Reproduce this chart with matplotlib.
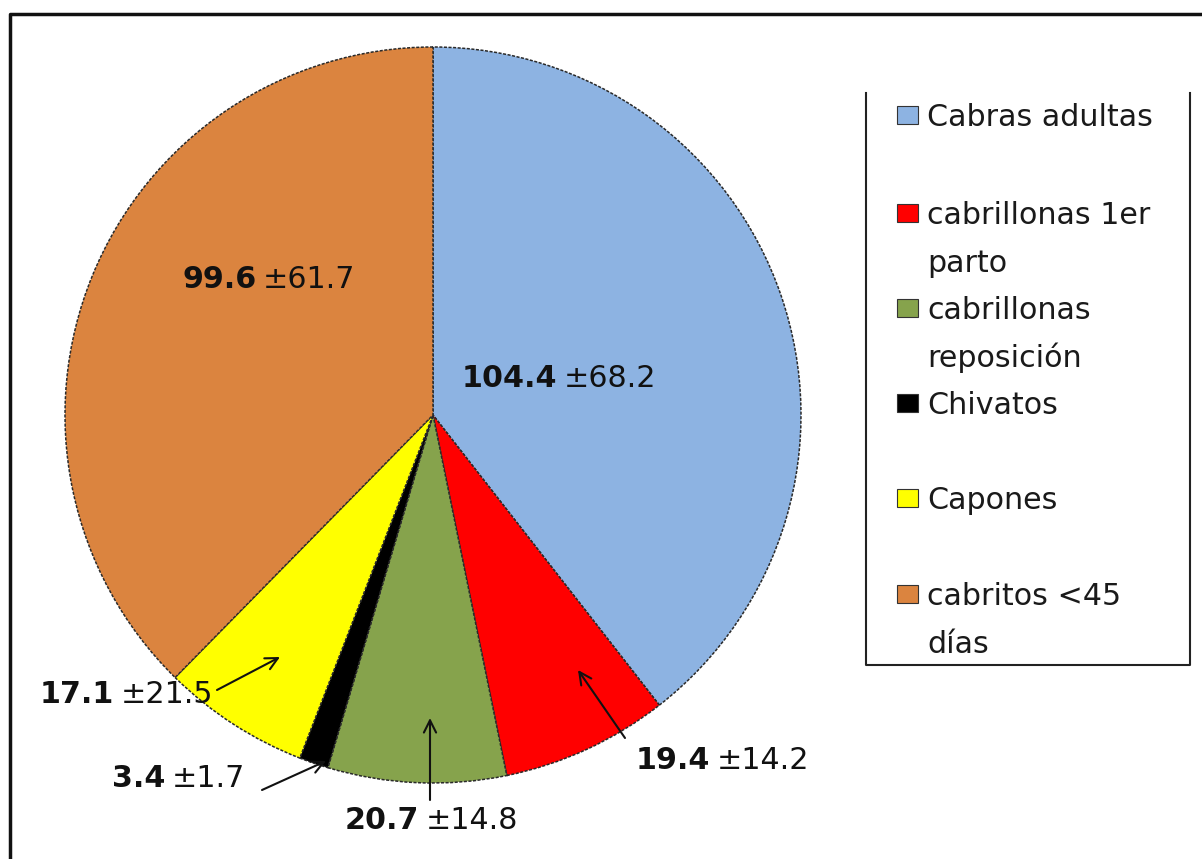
import matplotlib
matplotlib.use("Agg")
import matplotlib.pyplot as plt
from matplotlib.patches import Rectangle
from matplotlib.lines import Line2D

# ---- data ----
categories = ["Cabras adultas", "cabrillonas 1er\nparto", "cabrillonas\nreposición",
              "Chivatos", "Capones", "cabritos <45\ndías"]
means = [104.4, 19.4, 20.7, 3.4, 17.1, 99.6]
sds = [68.2, 14.2, 14.8, 1.7, 21.5, 61.7]
colors = ["#8DB3E2", "#FF0000", "#86A34C", "#000000", "#FFFF00", "#DB843F"]

W, H = 1202, 859
plt.rcParams['font.family'] = ['DejaVu Sans']
fig = plt.figure(figsize=(W / 100, H / 100), dpi=100)
ax = fig.add_axes([0, 0, 1, 1])

def Y(y):
    return H - y

# pie
wedges, _ = ax.pie(means, colors=colors, startangle=90, counterclock=False,
                   center=(433, Y(415)), radius=368, frame=True,
                   wedgeprops=dict(edgecolor="#2a2a2a", linewidth=1.1,
                                   linestyle=(0, (2, 1))))
ax.set_xlim(0, W)
ax.set_ylim(0, H)
ax.set_aspect('equal')
ax.axis('off')

# data labels: (left x, center y) in pixel coords
label_pos = [(462, 376), (636, 758), (345, 818), (112, 776), (40, 692), (183, 277)]
fs = 21.7
fig.canvas.draw()
renderer = fig.canvas.get_renderer()
inv = ax.transData.inverted()
for (x, y), m, s in zip(label_pos, means, sds):
    t1 = ax.text(x, Y(y) - 11, f"{m}", fontsize=fs, fontweight='bold', ha='left',
                 va='baseline', color='#111111')
    bb = t1.get_window_extent(renderer)
    x2 = inv.transform((bb.x1, bb.y0))[0] + 6
    ax.text(x2, Y(y) - 11, f"±{s}", fontsize=fs, ha='left', va='baseline',
            color='#111111')

# arrows (tail -> head) in pixel coords
arrows = [((625, 738), (578, 670)), ((430, 800), (430, 718)),
          ((262, 790), (326, 761)), ((217, 690), (280, 657))]
for (tx, ty), (hx, hy) in arrows:
    ax.annotate("", xy=(hx, Y(hy)), xytext=(tx, Y(ty)),
                arrowprops=dict(arrowstyle="->", color="#111111", lw=1.5,
                                mutation_scale=22, shrinkA=0, shrinkB=0))

# legend (manual)
leg_left, leg_right, leg_top, leg_bottom = 866, 1190, 93, 665
ax.add_line(Line2D([leg_left, leg_left, leg_right, leg_right],
                   [Y(leg_top), Y(leg_bottom), Y(leg_bottom), Y(leg_top)],
                   color="#222222", lw=1.5))
entry_y = [115, 213, 308, 403, 498, 594]
for yy, lab, c in zip(entry_y, categories, colors):
    ax.add_patch(Rectangle((897, Y(yy) - 9), 21, 18, facecolor=c,
                           edgecolor="#333333", lw=0.8))
    for k, line in enumerate(lab.split("\n")):
        ax.text(927, Y(yy + 48 * k) - 11, line, fontsize=fs, ha='left',
                va='baseline', color='#1a1a1a')

# outer frame
ax.add_line(Line2D([10, 10, W + 5], [-5, Y(14), Y(14)], color="#111111", lw=2.5))

fig.savefig("out.png", dpi=100)
